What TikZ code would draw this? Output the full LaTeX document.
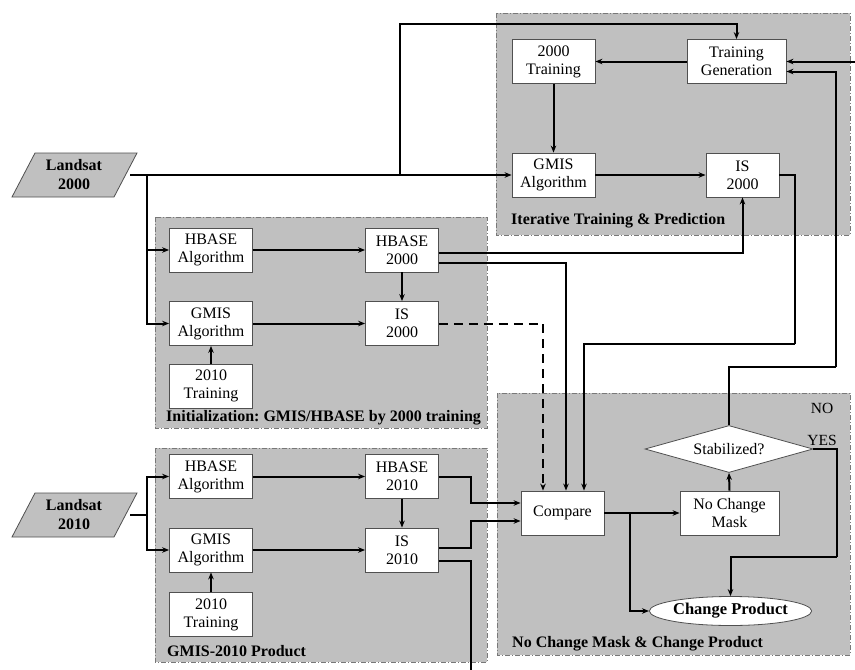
\documentclass[tikz,border=0pt]{standalone}
\usepackage{fontspec}
\setmainfont{Liberation Serif}
\usetikzlibrary{arrows.meta,shapes.geometric,calc}
\definecolor{grpfill}{RGB}{192,192,192}
\definecolor{grpline}{RGB}{120,120,120}
\definecolor{boxline}{RGB}{80,80,80}
\tikzset{
  box/.style={draw=boxline,line width=0.8pt,fill=white,minimum width=83pt,minimum height=44pt,inner sep=0pt,align=center,font=\fontsize{16}{18}\selectfont},
  sbox/.style={box,minimum width=73pt},
  grp/.style={fill=grpfill,draw=grpline,line width=0.8pt,dash pattern=on 5pt off 2pt on 1pt off 2pt},
  grplabel/.style={anchor=west,font=\fontsize{16}{18}\selectfont\bfseries,inner sep=0pt},
  conn/.style={line width=2pt,draw=black},
  arr/.style={conn,-{Stealth[length=7pt,width=5.5pt]}},
  lsat/.style={font=\fontsize{16}{19}\selectfont\bfseries,minimum width=112pt,minimum height=44pt,inner sep=0pt,align=center},
}
\begin{document}
\begin{tikzpicture}[x=1pt,y=-1pt]
\useasboundingbox (0,0) rectangle (855,670);
% groups
\draw[grp] (496,13) rectangle (850,235);
\draw[grp] (155,217) rectangle (487,428);
\draw[grp] (155,448) rectangle (487,662);
\draw[grp] (497,393) rectangle (850,655);
\node[grplabel] (lbliter) at (511,221) {Iterative Training \& Prediction};
\node[grplabel] (lblinit) at (166,418) {Initialization:\ GMIS/HBASE by 2000 training};
\node[grplabel] (lblg10) at (167,651) {GMIS-2010 Product};
\node[grplabel] (lblncm) at (512,644) {No Change Mask \& Change Product};
% Landsat inputs
\draw[fill=grpfill,draw=boxline,line width=0.8pt] (12,197) -- (35,153) -- (137,153) -- (114,197) -- cycle;
\node[lsat] (l2000) at (74,175) {Landsat\\2000};
\draw[fill=grpfill,draw=boxline,line width=0.8pt] (12,537) -- (35,493) -- (137,493) -- (114,537) -- cycle;
\node[lsat] (l2010) at (74,515) {Landsat\\2010};
% iterative group
\node[box] (t2000) at (553.5,61.5) {2000\\Training};
\node[box,minimum width=99pt] (tgen) at (736.5,61.5) {Training\\Generation};
\node[box] (tgmis) at (553.5,175) {GMIS\\Algorithm};
\node[sbox] (tis) at (742.5,175) {IS\\2000};
% init group
\node[box] (ihalg) at (211,250) {HBASE\\Algorithm};
\node[sbox] (ih2000) at (402,250) {HBASE\\2000};
\node[box] (igalg) at (211,323.5) {GMIS\\Algorithm};
\node[sbox] (iis) at (402,323.5) {IS\\2000};
\node[box] (itr) at (211,386) {2010\\Training};
% gmis-2010 group
\node[box] (ghalg) at (211,476.5) {HBASE\\Algorithm};
\node[sbox] (gh2010) at (402,476.5) {HBASE\\2010};
\node[box] (ggalg) at (211,550) {GMIS\\Algorithm};
\node[sbox] (gis) at (402,550) {IS\\2010};
\node[box] (gtr) at (211,614.5) {2010\\Training};
% change group
\node[box] (cmp) at (562.5,513) {Compare};
\node[box,minimum width=99pt] (ncm) at (729.5,513) {No Change\\Mask};
\node[diamond,draw=boxline,line width=0.8pt,fill=white,aspect=3.55,minimum width=168pt,minimum height=47pt,inner sep=0pt,font=\fontsize{16}{18}\selectfont] (dia) at (729,449) {Stabilized?};
\node[ellipse,draw=boxline,line width=0.8pt,fill=white,minimum width=151pt,minimum height=29pt,inner sep=0pt,font=\fontsize{16.5}{18}\selectfont\bfseries] (cp) at (730.5,611) {Change Product};
\node[font=\fontsize{15.5}{18}\selectfont,inner sep=0pt] (no) at (822,408) {NO};
\node[font=\fontsize{15.5}{18}\selectfont,inner sep=0pt] (yes) at (822,440) {YES};
% junction coordinates
\coordinate (j1) at (400,175);
\coordinate (j2) at (147,175);
\coordinate (j3) at (147,515);
\coordinate (j4) at (630,513);
\coordinate (c1) at (795,344);
\coordinate (c3) at (837,557);
\coordinate (c4) at (836,367);
\coordinate (inR) at (855,61.5);
\coordinate (outB) at (471,670);
% connectors: landsat 2000
\draw[arr] (l2000.east) -- (tgmis.west);
\draw[arr] (j1) |- (400,24) -| (tgen.north);
\draw[arr] (j2) |- (ihalg.west);
\draw[arr] (j2) |- (igalg.west);
% iterative
\draw[arr] (tgen.west) -- (t2000.east);
\draw[arr] (t2000.south) -- (tgmis.north);
\draw[arr] (tgmis.east) -- (tis.west);
\draw[arr] (inR) -- (tgen.east);
\draw[conn] (tis.east) -| (c1);
\draw[arr] (c1) -| ([xshift=21.5pt]cmp.north);
% init
\draw[arr] (ihalg.east) -- (ih2000.west);
\draw[arr] (igalg.east) -- (iis.west);
\draw[arr] (itr.north) -- (igalg.south);
\draw[arr] (ih2000.south) -- (iis.north);
\draw[arr] ([yshift=-3pt]ih2000.east) -| (tis.south);
\draw[arr] ([yshift=-13pt]ih2000.east) -| ([xshift=3.5pt]cmp.north);
\draw[arr,dash pattern=on 9pt off 6pt] (iis.east) -| ([xshift=-19.5pt]cmp.north);
% landsat 2010
\draw[conn] (l2010.east) -- (j3);
\draw[arr] (j3) |- (ghalg.west);
\draw[arr] (j3) |- (ggalg.west);
\draw[arr] (ghalg.east) -- (gh2010.west);
\draw[arr] (ggalg.east) -- (gis.west);
\draw[arr] (gtr.north) -- (ggalg.south);
\draw[arr] (gh2010.south) -- (gis.north);
\draw[arr] (gh2010.east) -- ++(32,0) |- ([yshift=10pt]cmp.west);
\draw[arr] ([yshift=2pt]gis.east) -- ++(32,0) |- ([yshift=-8pt]cmp.west);
\draw[conn] ([yshift=-11pt]gis.east) -| (outB);
% change group
\draw[arr] (cmp.east) -- (ncm.west);
\draw[arr] (j4) |- (cp.west);
\draw[arr] (ncm.north) -- (dia.south);
\draw[conn] (dia.east) -| (c3);
\draw[arr] (c3) -| (cp.north);
\draw[conn] (dia.north) |- (c4);
\draw[arr] (c4) |- ([yshift=-10pt]tgen.east);
\end{tikzpicture}
\end{document}
